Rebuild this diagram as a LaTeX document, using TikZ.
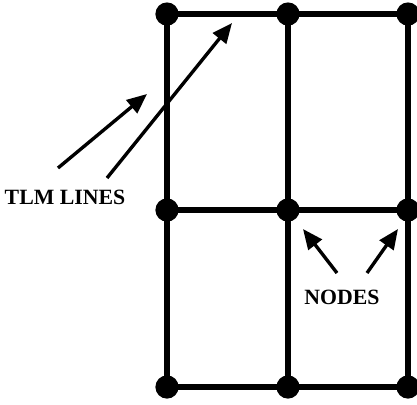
\documentclass[tikz,border=0pt]{standalone}
\usepackage{fontspec}
\setmainfont{Liberation Serif}
\usetikzlibrary{arrows.meta}
\begin{document}
\begin{tikzpicture}[x=.025cm, y=-.025cm, line width=3.6pt,
    junction/.style={circle, fill, inner sep=0pt, minimum size=.58cm},
    pointer/.style={line width=2.4pt, -{Triangle[length=.5cm, width=.42cm]}},
    tag/.style={font=\bfseries\fontsize{15.5}{18}\selectfont}]
  \useasboundingbox (0,0) rectangle (417,404);
  % mesh junctions
  \foreach \c/\x in {a/167, b/288, c/408}
    \foreach \r/\y in {1/14, 2/210, 3/387}
      \node[junction] (j-\c\r) at (\x,\y) {};
  % transmission lines
  \foreach \r in {1,2,3}
    \draw (j-a\r.center) -- (j-c\r.center);
  \foreach \c in {a,b,c}
    \draw (j-\c1.center) -- (j-\c3.center);
  % labels
  \node[tag] (tlm) at (65,197) {TLM LINES};
  \node[tag] (nodes) at (342,297) {NODES};
  \coordinate (tlm-s1) at (58,168);
  \coordinate (tlm-s2) at (107,178);
  \coordinate (tlm-e1) at (147,94);
  \coordinate (tlm-e2) at (232,23);
  \coordinate (nodes-s1) at (337,273);
  \coordinate (nodes-s2) at (367,273);
  \coordinate (nodes-e1) at (303,229);
  \coordinate (nodes-e2) at (398,229);
  \draw[pointer] (tlm-s1) -- (tlm-e1);
  \draw[pointer] (tlm-s2) -- (tlm-e2);
  \draw[pointer] (nodes-s1) -- (nodes-e1);
  \draw[pointer] (nodes-s2) -- (nodes-e2);
\end{tikzpicture}
\end{document}
